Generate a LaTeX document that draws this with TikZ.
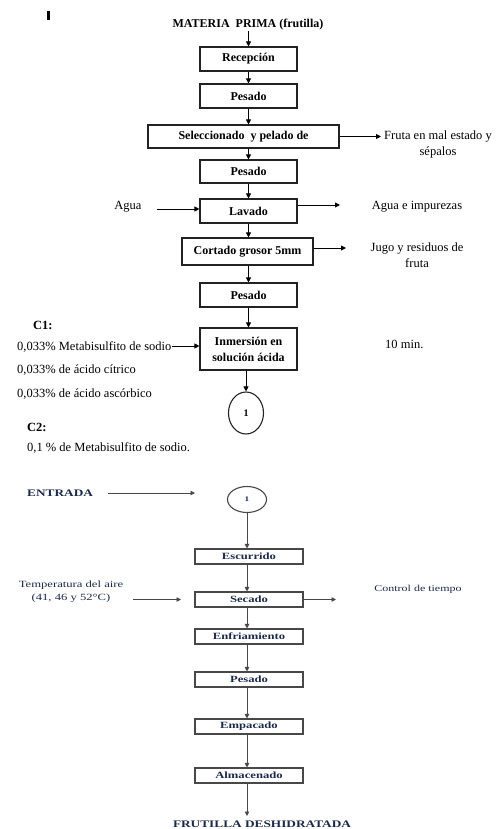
\documentclass[tikz,border=0pt]{standalone}
\usepackage{fontspec}
\setmainfont{Liberation Serif}
\newfontfamily\widefont[FakeStretch=1.33]{Liberation Serif}
\usetikzlibrary{arrows.meta,shapes.geometric}
\definecolor{navy}{HTML}{1B2A48}
\definecolor{boxline}{HTML}{222222}
\definecolor{lowline}{HTML}{484848}
\begin{document}
\begin{tikzpicture}[x=1pt,y=-1pt,
  arr/.style={draw=black,line width=0.9pt,-{Triangle[length=5pt,width=5pt]}},
  larr/.style={draw=lowline,line width=0.9pt,-{Triangle[length=4.5pt,width=4.5pt]}},
  ubox/.style={draw=boxline,line width=1.1pt,minimum width=97pt,minimum height=24pt,inner sep=0pt,align=center,
    font=\fontsize{12}{14}\selectfont\bfseries},
  lbox/.style={draw=lowline,line width=1.1pt,minimum width=108pt,minimum height=15pt,inner sep=0pt,
    font=\widefont\fontsize{9.5}{11}\selectfont\bfseries,text=navy},
  utext/.style={inner sep=0pt,font=\fontsize{12.5}{16}\selectfont},
  ltext/.style={inner sep=0pt,font=\widefont\fontsize{9.5}{13}\selectfont,text=navy},
  ltitle/.style={inner sep=0pt,font=\widefont\fontsize{10}{12}\selectfont\bfseries,text=navy}
]
\useasboundingbox (0,0) rectangle (497,829);
\fill[black] (47,11) rectangle (49.5,20);

% ---------- upper part ----------
\node[inner sep=0pt,font=\fontsize{12}{14}\selectfont\bfseries] (mp) at (248,25) {MATERIA\ \ PRIMA (frutilla)};
\node[ubox] (recep) at (248.5,59) {Recepción};
\node[ubox] (pes1) at (248.5,96) {Pesado};
\node[ubox,minimum width=191pt,minimum height=23pt] (selec) at (243.5,136.5) {Seleccionado\ \ y pelado de};
\node[ubox,minimum height=23pt] (pes2) at (248.5,171.5) {Pesado};
\node[ubox] (lav) at (248.5,211) {Lavado};
\node[ubox,minimum width=131pt,minimum height=27pt] (cort) at (247.5,251.5) {Cortado grosor 5mm};
\node[ubox] (pes3) at (248.5,295) {Pesado};
\node[ubox,minimum height=42pt,font=\fontsize{12}{16}\selectfont\bfseries] (inm) at (248.5,349) {Inmersión en\\solución ácida};
\node[draw=boxline,line width=1.1pt,ellipse,minimum width=35pt,minimum height=42pt,inner sep=0pt,
  font=\fontsize{10}{12}\selectfont\bfseries] (c1) at (246,413) {1};

\draw[arr] (mp.south -| recep.north) -- (recep.north);
\draw[arr] (recep) -- (pes1);
\draw[arr] (pes1) -- (pes1 |- selec.north);
\draw[arr] (selec.south -| pes2.north) -- (pes2);
\draw[arr] (pes2) -- (lav);
\draw[arr] (lav.south) -- (lav.south |- cort.north);
\draw[arr] (cort.south -| pes3.north) -- (pes3);
\draw[arr] (pes3) -- (inm);
\draw[arr] (inm.south -| c1.north) -- (c1.north);

% side texts upper
\node[utext,align=center] (fruta) at (438,144) {Fruta en mal estado y\\sépalos};
\coordinate (frutaIn) at (381,136.5);
\draw[arr] (selec.east) -- (frutaIn);

\node[utext] (agua) at (128,207) {Agua};
\coordinate (aguaOut) at (157,209);
\draw[arr] (aguaOut) -- (aguaOut -| lav.west);

\node[utext] (aguaimp) at (417,207) {Agua e impurezas};
\coordinate (aguaImpIn) at (340,205);
\draw[arr] (aguaImpIn -| lav.east) -- (aguaImpIn);

\node[utext,align=center] (jugo) at (417,255.5) {Jugo y residuos de\\fruta};
\coordinate (jugoIn) at (346,248);
\draw[arr] (jugoIn -| cort.east) -- (jugoIn);

\node[utext,font=\fontsize{12.5}{16}\selectfont\bfseries,anchor=west] (c1lbl) at (33,325) {C1:};
\node[utext,anchor=west] (m1) at (17,347) {0,033\% Metabisulfito de sodio};
\node[utext,anchor=west] (m2) at (17,370) {0,033\% de ácido cítrico};
\node[utext,anchor=west] (m3) at (17,394) {0,033\% de ácido ascórbico};
\node[utext,font=\fontsize{12.5}{16}\selectfont\bfseries,anchor=west] (c2lbl) at (27,427) {C2:};
\node[utext,anchor=west] (m4) at (27,448) {0,1 \% de Metabisulfito de sodio.};
\node[utext,anchor=west] (tmin) at (385,344) {10 min.};
\coordinate (c1Out) at (172,346);
\draw[arr] (c1Out) -- (c1Out -| inm.west);

% ---------- lower part ----------
\node[ltitle,anchor=west] (entrada) at (27,493) {ENTRADA};
\coordinate (entA) at (108,493);
\coordinate (entB) at (195,493);
\draw[larr] (entA) -- (entB);

\node[draw=lowline,line width=1.1pt,ellipse,minimum width=39pt,minimum height=26pt,inner sep=0pt,
  font=\widefont\fontsize{7}{8}\selectfont\bfseries,text=navy] (c2) at (247,499.5) {1};

\node[lbox] (esc) at (249,556.5) {Escurrido};
\node[lbox] (sec) at (249,599.5) {Secado};
\node[lbox] (enf) at (249,636.5) {Enfriamiento};
\node[lbox] (pes4) at (249,679.5) {Pesado};
\node[lbox] (emp) at (249,726.5) {Empacado};
\node[lbox] (alm) at (249,775.5) {Almacenado};
\node[ltitle] (fin) at (262,824) {FRUTILLA DESHIDRATADA};

\draw[larr] (c2.south) -- (c2.south |- esc.north);
\draw[larr] (esc.south -| c2.south) -- (sec.north -| c2.south);
\draw[larr] (sec.south -| c2.south) -- (enf.north -| c2.south);
\draw[larr] (enf.south -| c2.south) -- (pes4.north -| c2.south);
\draw[larr] (pes4.south -| c2.south) -- (emp.north -| c2.south);
\draw[larr] (emp.south -| c2.south) -- (alm.north -| c2.south);
\coordinate (finIn) at (247,816);
\draw[larr] (alm.south -| c2.south) -- (finIn);

\node[ltext,align=center] (temp) at (71,591.5) {Temperatura del aire\\(41, 46 y 52°C)};
\coordinate (tempA) at (133,599.5);
\coordinate (tempB) at (181,599.5);
\draw[larr] (tempA) -- (tempB);

\node[ltext,font=\widefont\fontsize{9}{11}\selectfont] (ctrl) at (418,589) {Control de tiempo};
\coordinate (ctrlIn) at (336,599.5);
\draw[larr] (sec.east) -- (ctrlIn);
\end{tikzpicture}
\end{document}
